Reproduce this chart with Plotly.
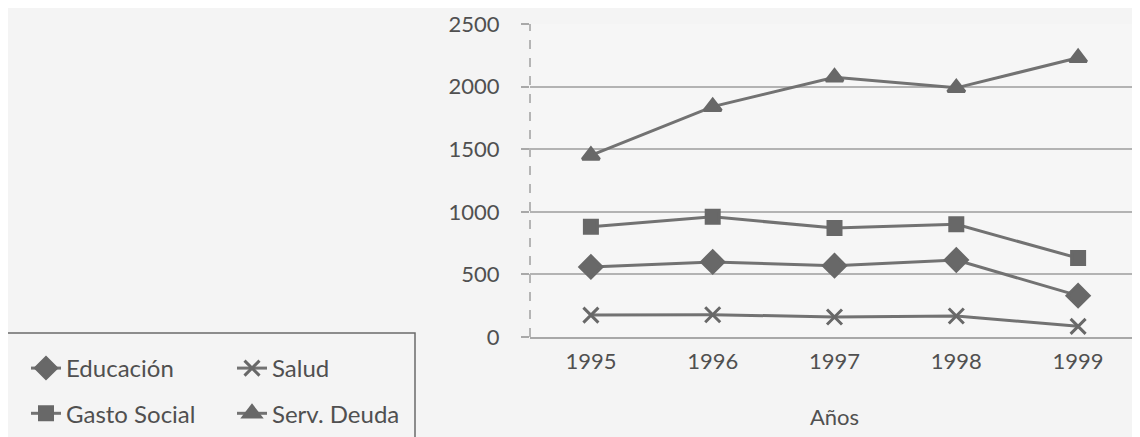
import plotly.graph_objects as go

years = ["1995", "1996", "1997", "1998", "1999"]
educacion = [560, 600, 570, 615, 330]
salud = [175, 178, 160, 168, 85]
gasto_social = [880, 960, 870, 900, 630]
serv_deuda = [1450, 1840, 2075, 1990, 2230]
y_ticks = [0, 500, 1000, 1500, 2000, 2500]

LINE = "#727272"
MARK = "#686868"
TXT = "#505050"
FONT = "Lato"

fig = go.Figure()

series = [
    ("Educación", educacion, "diamond", 17, "legend"),
    ("Salud", salud, "x-thin-open", 15, "legend2"),
    ("Gasto Social", gasto_social, "square", 13, "legend"),
    ("Serv. Deuda", serv_deuda, "triangle-up", 15, "legend2"),
]
for name, vals, sym, size, leg in series:
    fig.add_trace(go.Scatter(
        x=years, y=vals, name=name, mode="lines+markers",
        line=dict(color=LINE, width=3),
        marker=dict(symbol=sym, size=size, color=MARK,
                    line=dict(color=MARK, width=3)),
        legend=leg, legendgroup=name,
    ))

# plot area in figure px: x 522..1131 (609 wide), y 16..329 (313 tall)
PW, PH = 609.0, 313.0
def px(xs):
    return (xs - 522) / PW
def py(ys):
    return (329 - ys) / PH

# dashed-looking vertical axis line
fig.add_shape(type="line", xref="paper", yref="y", x0=0, x1=0, y0=0, y1=2500,
              line=dict(color="#a0a0a0", width=1.5, dash="dash"), layer="below")
# legend frame
fig.add_shape(type="rect", xref="paper", yref="paper",
              x0=px(-5), x1=px(407), y0=py(440), y1=py(325),
              line=dict(color="#6a6a6a", width=1.5), fillcolor="rgba(0,0,0,0)")

legend_common = dict(
    font=dict(family=FONT, size=24, color=TXT),
    bgcolor="rgba(0,0,0,0)", borderwidth=0,
    orientation="v", xanchor="left", yanchor="top",
    tracegroupgap=11, itemwidth=30,
)

fig.update_layout(
    width=1140, height=437,
    margin=dict(l=522, r=9, t=16, b=108),
    paper_bgcolor="#f4f4f4", plot_bgcolor="#f6f6f6",
    font=dict(family=FONT, size=22, color=TXT),
    showlegend=True,
    legend=dict(x=px(18), y=py(338), **legend_common),
    legend2=dict(x=px(224), y=py(338), **legend_common),
    xaxis=dict(
        type="category", range=[-0.5, 4.5],
        showgrid=False, showline=True, linecolor="#a8a8a8", linewidth=1.5,
        ticks="", ticklabelstandoff=4,
        tickfont=dict(family=FONT, size=22, color=TXT),
        title=dict(text="Años", standoff=36,
                   font=dict(family=FONT, size=22, color=TXT)),
        automargin=False, zeroline=False,
    ),
    yaxis=dict(
        range=[0, 2500], tickvals=y_ticks,
        showgrid=True, gridcolor="#b3b3b3", gridwidth=1.5,
        showline=False, zeroline=False,
        ticks="outside", ticklen=8, tickcolor="#a8a8a8", tickwidth=1.5,
        ticklabelstandoff=17,
        tickfont=dict(family=FONT, size=22, color=TXT),
        automargin=False,
    ),
)

fig.write_html("out.html")
